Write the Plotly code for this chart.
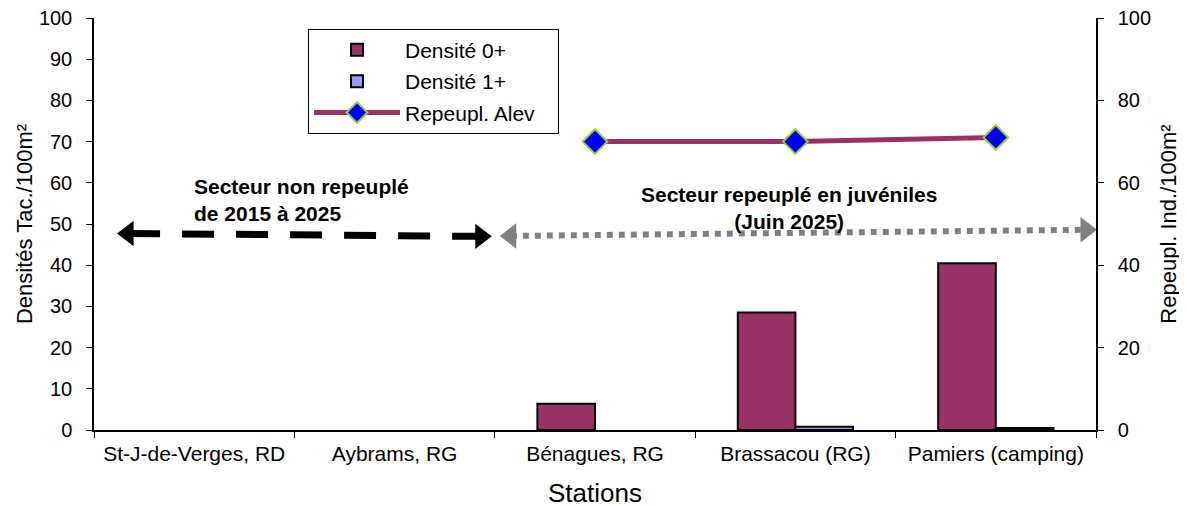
import plotly.graph_objects as go

# stations along the river
stations = ["St-J-de-Verges, RD", "Aybrams, RG", "Bénagues, RG", "Brassacou (RG)", "Pamiers (camping)"]

# densities (left axis, Tac./100m²)
dens_0 = [None, None, 6.4, 28.5, 40.5]
dens_1 = [None, None, None, 0.8, 0.5]

# stocking (right axis, Ind./100m²)
repeupl = [None, None, 70, 70, 71]

# annotation arrows, in category units / left-axis units
arrow_non_x = [-0.33, 1.43]
arrow_non_y = [47.7, 47.0]
arrow_rep_x = [1.58, 4.45]
arrow_rep_y = [47.1, 48.6]

FONT = "Liberation Sans, Arial, sans-serif"
PLUM = "#993366"
PAD = "\u00a0" * 3  # widens the legend box a little

fig = go.Figure()

fig.add_trace(go.Bar(x=stations, y=dens_0, name="Densité 0+", legendgroup="a",
                     marker=dict(color=PLUM, line=dict(color="black", width=2))))
fig.add_trace(go.Bar(x=stations, y=dens_1, name="Densité 1+", legendgroup="b",
                     marker=dict(color="#9999FF", line=dict(color="black", width=2))))
fig.add_trace(go.Scatter(x=stations, y=repeupl, name="Repeupl. Alev" + PAD, yaxis="y2", legendgroup="c",
                         mode="lines+markers",
                         line=dict(color=PLUM, width=5),
                         marker=dict(symbol="diamond", size=19, color="#0000FF",
                                     line=dict(color="#9ACD32", width=2))))

# dashed black double arrow (non repeopled sector)
fig.add_trace(go.Scatter(x=arrow_non_x, y=arrow_non_y, xaxis="x2", mode="lines+markers",
                         showlegend=False, hoverinfo="skip",
                         line=dict(color="black", width=7, dash="32px,22px"),
                         marker=dict(symbol=["triangle-left", "triangle-right"], size=22, color="black")))
# dotted grey double arrow (repeopled sector)
fig.add_trace(go.Scatter(x=arrow_rep_x, y=arrow_rep_y, xaxis="x2", mode="lines+markers",
                         showlegend=False, hoverinfo="skip",
                         line=dict(color="#808080", width=6, dash="6px,6px"),
                         marker=dict(symbol=["triangle-left", "triangle-right"], size=22, color="#808080")))

fig.add_annotation(x=-0.01, y=55.8, xref="x2", yref="y", xanchor="left", yanchor="middle",
                   align="left", showarrow=False,
                   text="<b>Secteur non repeuplé<br>de 2015 à 2025</b>",
                   font=dict(family=FONT, size=21, color="black"))
fig.add_annotation(x=2.97, y=54.0, xref="x2", yref="y", xanchor="center", yanchor="middle",
                   align="center", showarrow=False,
                   text="<b>Secteur repeuplé en juvéniles<br>(Juin 2025)</b>",
                   font=dict(family=FONT, size=21, color="black"))

fig.update_layout(
    width=1187, height=506,
    margin=dict(l=86, r=99, t=10, b=84, autoexpand=False),
    paper_bgcolor="white", plot_bgcolor="white",
    font=dict(family=FONT, size=21, color="black"),
    barmode="group", bargap=0.425, bargroupgap=0,
    showlegend=True,
    legend=dict(x=0.2136, y=0.974, xanchor="left", yanchor="top",
                bordercolor="black", borderwidth=1, bgcolor="white",
                font=dict(family=FONT, size=21), itemwidth=86,
                tracegroupgap=1),
    xaxis=dict(type="category", range=[-0.5, 4.5], showline=True, linecolor="black", linewidth=1.5,
               ticks="outside", tickson="boundaries", ticklen=6, tickcolor="black",
               ticklabelstandoff=4,
               tickfont=dict(family=FONT, size=21), automargin=False,
               title=dict(text="Stations", font=dict(family=FONT, size=26), standoff=20),
               showgrid=False, zeroline=False),
    xaxis2=dict(range=[-0.5, 4.5], overlaying="x", visible=False),
    yaxis=dict(range=[0, 100], dtick=10, showline=True, linecolor="black", linewidth=1.5,
               ticks="outside", ticklen=6, tickcolor="black", ticklabelstandoff=10,
               ticklabeloverflow="allow",
               tickfont=dict(family=FONT, size=20), automargin=False,
               title=dict(text="Densités Tac./100m²", font=dict(family=FONT, size=22), standoff=0),
               showgrid=False, zeroline=False),
    yaxis2=dict(range=[0, 100], dtick=20, overlaying="y", side="right",
                showline=True, linecolor="black", linewidth=1.5,
                ticks="outside", ticklen=6, tickcolor="black", ticklabelstandoff=10,
                ticklabeloverflow="allow",
                tickfont=dict(family=FONT, size=20), automargin=False,
                title=dict(text="Repeupl. Ind./100m²", font=dict(family=FONT, size=22), standoff=10),
                showgrid=False, zeroline=False),
)

fig.write_html("out.html")
